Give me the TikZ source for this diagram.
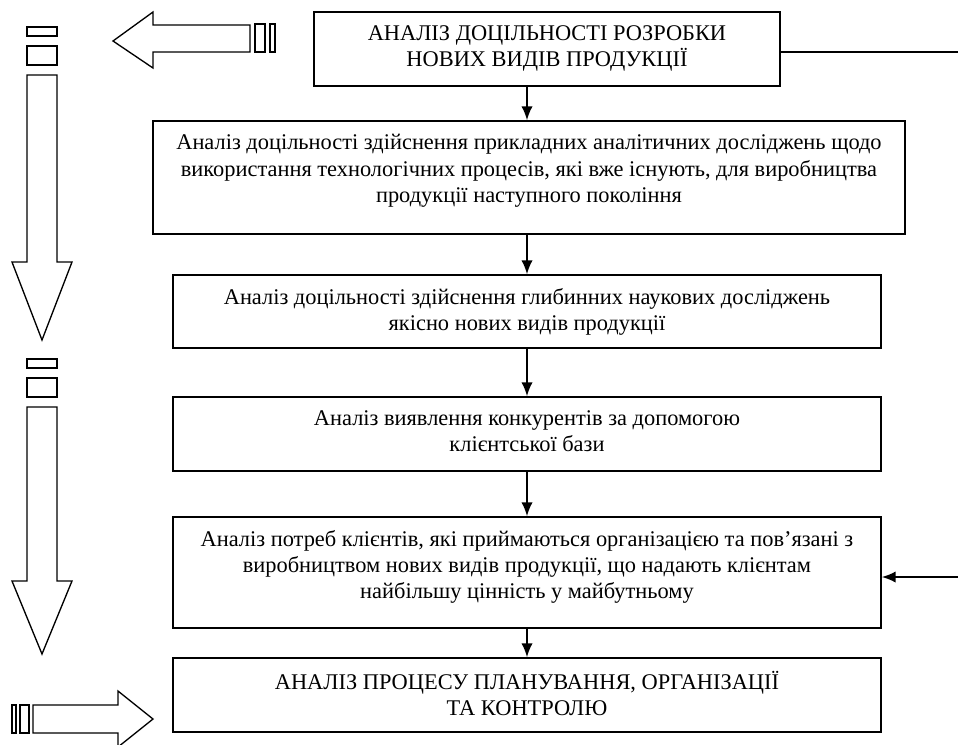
\documentclass[tikz,border=0pt]{standalone}
\usepackage{fontspec}
\setmainfont{Liberation Serif}
\usetikzlibrary{arrows.meta,positioning}
\tikzset{
	stage/.style 2 args={
		draw, line width=1pt,
		minimum width=#1*0.75pt, minimum height=#2*0.75pt,
		inner sep=0
	},
	stagetext/.style={
		align=center, inner sep=0,
		font=\fontsize{16.8pt}{19.6pt}\selectfont
	},
	flow/.style={line width=1.5pt, -{Latex[length=10.5pt,width=8.5pt]}},
	hollow/.style={draw, line width=1pt, fill=white, line join=miter}
}

\begin{document}
\begin{tikzpicture}[x=0.75pt,y=-0.75pt]
\useasboundingbox (0,0) rectangle (958,744);
\clip (0,0) rectangle (958,744);

% stage boxes
\node[stage={466}{74}] (b1) at (547,49) {};
\node[stage={752}{113}] (b2) at (529,177.5) {};
\node[stage={708}{73}] (b3) at (527,311.5) {};
\node[stage={708}{74}] (b4) at (527,434) {};
\node[stage={708}{111}] (b5) at (527,572.5) {};
\node[stage={708}{74}] (b6) at (527,695) {};

\node[stagetext, below=10.5pt of b1.north] (t1) {АНАЛІЗ ДОЦІЛЬНОСТІ РОЗРОБКИ\\НОВИХ ВИДІВ ПРОДУКЦІЇ};
\node[stagetext, below=10.5pt of b2.north] (t2) {Аналіз доцільності здійснення прикладних аналітичних досліджень щодо\\використання технологічних процесів, які вже існують, для виробництва\\продукції наступного покоління};
\node[stagetext, below=10.5pt of b3.north] (t3) {Аналіз доцільності здійснення глибинних наукових досліджень\\якісно нових видів продукції};
\node[stagetext, below=10.5pt of b4.north] (t4) {Аналіз виявлення конкурентів за допомогою\\клієнтської бази};
\node[stagetext, below=10.5pt of b5.north] (t5) {Аналіз потреб клієнтів, які приймаються організацією та пов’язані з\\виробництвом нових видів продукції, що надають клієнтам\\найбільшу цінність у майбутньому};
\node[stagetext, below=10.5pt of b6.north] (t6) {АНАЛІЗ ПРОЦЕСУ ПЛАНУВАННЯ, ОРГАНІЗАЦІЇ\\ТА КОНТРОЛЮ};

% arrows between stages
\foreach \a/\b in {b1/b2,b2/b3,b3/b4,b4/b5,b5/b6}{
	\draw[flow] (\a.south -| b4) -- (\b.north -| b4);
}

% feedback from the right edge
\coordinate (edgeTop) at (960,52);
\coordinate (edgeIn) at (960,577);
\draw[line width=1pt] (b1.east |- edgeTop) -- (edgeTop);
\draw[flow] (edgeIn) -- (edgeIn -| b5.east);

% big hollow arrows on the left
\foreach \top/\neck/\tip in {27/262/340,359/581/654}{
	\draw[hollow] (27,\top) rectangle (57,\top+9);
	\draw[hollow] (27,\top+19) rectangle (57,\top+38);
	\draw[hollow] (27,\top+48) -- (27,\neck) -- (12,\neck) -- (42,\tip)
		-- (72,\neck) -- (57,\neck) -- (57,\top+48) -- cycle;
}
\draw[hollow] (250,25) -- (153,25) -- (153,12) -- (113,41) -- (153,68)
	-- (153,52) -- (250,52) -- cycle;
\draw[hollow] (255,24) rectangle (265,52);
\draw[hollow] (270,24) rectangle (275,52);

\draw[hollow] (33,705) -- (118,705) -- (118,691) -- (153,719) -- (118,747)
	-- (118,733) -- (33,733) -- cycle;
\draw[hollow] (12,705) rectangle (16,733);
\draw[hollow] (20,705) rectangle (29,733);
\end{tikzpicture}
\end{document}
